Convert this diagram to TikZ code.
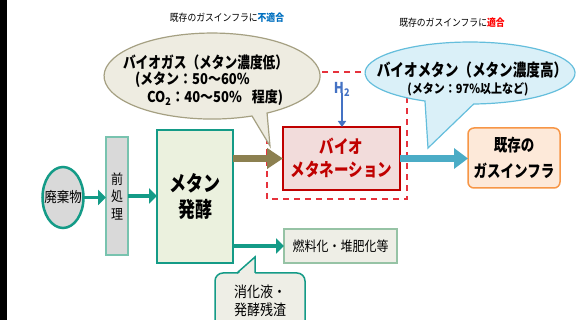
\documentclass[tikz,border=0pt]{standalone}
\usepackage{fontspec}
\setmainfont{Noto Sans CJK JP}
\usetikzlibrary{arrows.meta,shapes.geometric}
\newcommand{\tallt}[1]{\scalebox{1}[1.25]{#1}}
\newcommand{\midt}[1]{\scalebox{1}[1.15]{#1}}
\definecolor{tealc}{RGB}{20,155,135}
\definecolor{gfill}{RGB}{235,241,222}
\definecolor{prefill}{RGB}{217,217,217}
\definecolor{preline}{RGB}{120,195,175}
\definecolor{olivec}{RGB}{140,128,80}
\definecolor{beigefill}{RGB}{238,236,225}
\definecolor{beigeline}{RGB}{165,160,130}
\definecolor{bluefill}{RGB}{218,240,248}
\definecolor{blueline}{RGB}{100,190,220}
\definecolor{darkredc}{RGB}{192,0,0}
\definecolor{pinkfill}{RGB}{242,220,219}
\definecolor{dashred}{RGB}{230,50,60}
\definecolor{arrowblue}{RGB}{75,172,198}
\definecolor{orangeline}{RGB}{247,150,70}
\definecolor{orangefill}{RGB}{253,233,217}
\definecolor{fuelfill}{RGB}{238,238,230}
\definecolor{fuelline}{RGB}{150,195,165}
\definecolor{htwoblue}{RGB}{68,114,196}
\definecolor{blueT}{RGB}{0,112,192}
\definecolor{redT}{RGB}{255,0,0}
\tikzset{
  every node/.style={inner sep=0pt, outer sep=0pt},
  tarrow/.style={draw=tealc, line width=3.5pt, -{Triangle[length=8pt,width=15pt]}},
  oarrow/.style={draw=olivec, line width=7pt, -{Triangle[length=16pt,width=20pt]}},
  barrow/.style={draw=arrowblue, line width=7pt, -{Triangle[length=14pt,width=20pt]}},
  harrow/.style={draw=htwoblue, line width=1.5pt, -{Triangle[length=6pt,width=8pt]}},
  gbox/.style={draw=tealc, line width=2.5pt, fill=gfill, align=center, font=\fontsize{17pt}{26pt}\selectfont\bfseries},
  prebox/.style={draw=preline, line width=1.5pt, fill=prefill, align=center, font=\fontsize{12pt}{17.5pt}\selectfont},
  rbox/.style={draw=darkredc, line width=2.5pt, fill=pinkfill, text=darkredc, align=center, font=\fontsize{14.5pt}{23pt}\selectfont\bfseries},
  obox/.style={draw=orangeline, line width=1.5pt, fill=orangefill, rounded corners=6pt, align=center, font=\fontsize{13.5pt}{26pt}\selectfont\bfseries},
  fbox/.style={draw=fuelline, line width=1.2pt, fill=fuelfill, font=\fontsize{12pt}{14pt}\selectfont},
  beigecall/.style={draw=beigeline, line width=1.2pt, fill=beigefill},
  bluecall/.style={draw=blueline, line width=1.2pt, fill=bluefill},
  digcall/.style={draw=tealc, line width=1.5pt, fill=fuelfill},
  reddash/.style={draw=dashred, line width=1.5pt, dash pattern=on 6pt off 5pt},
}
\begin{document}
\begin{tikzpicture}[x=1pt,y=-1pt]
\useasboundingbox (0,0) rectangle (576,320);
\clip (0,0) rectangle (576,320);
\fill[white] (0,0) rectangle (576,320);
\fill[black] (0,0) rectangle (7,320);

% top labels
\node (lab1) at (227,18) {\midt{\fontsize{8.8pt}{10pt}\selectfont 既存のガスインフラに\textcolor{blueT}{\bfseries 不適合}}};
\node (lab2) at (452,23) {\midt{\fontsize{8.8pt}{10pt}\selectfont 既存のガスインフラに\textcolor{redT}{\bfseries 適合}}};

% red dashed frame
\draw[reddash] (267,72) rectangle (407,199);

% biogas callout
\draw[beigecall] (270,146) -- (252,116) arc[start angle=68.3, end angle=419.4, x radius=108, y radius=43] -- cycle;
\node[anchor=west] (bg1) at (123,62) {\tallt{\fontsize{12.7pt}{14pt}\selectfont\bfseries バイオガス（メタン濃度低）}};
\node[anchor=west] (bg2) at (135,80) {\midt{\fontsize{13pt}{14pt}\selectfont\bfseries (メタン：50～60\%}};
\node[anchor=west] (bg3) at (147,98) {\midt{\fontsize{13pt}{14pt}\selectfont\bfseries CO\textsubscript{2}：40～50\%\hspace{10pt}程度)}};

% biomethane callout
\draw[bluecall] (428,148) -- (473.7,104) arc[start angle=88, end angle=-244.6, x radius=105, y radius=31] -- cycle;
\node (bm1) at (472,70) {\tallt{\fontsize{13.6pt}{15pt}\selectfont\bfseries バイオメタン（メタン濃度高）}};
\node (bm2) at (468,89) {\midt{\fontsize{11pt}{13pt}\selectfont\bfseries (メタン：97\%以上など)}};

% waste
\node[ellipse, draw=tealc, line width=2.5pt, fill=prefill, minimum width=41pt, minimum height=61pt] (waste) at (63,197.5) {};
\node (wastet) at (waste) {\midt{\fontsize{12.5pt}{14pt}\selectfont 廃棄物}};

% boxes
\node[prebox, minimum width=22pt, minimum height=118pt] (pre) at (117,196) {\midt{前}\\\midt{処}\\\midt{理}};
\node[gbox, minimum width=76pt, minimum height=133pt] (ferm) at (195,196.5) {\tallt{メタン}\\\tallt{発酵}};
\node[rbox, minimum width=117pt, minimum height=63pt] (meth) at (341.5,158.5) {\tallt{バイオ}\\\tallt{メタネーション}};
\node[obox, minimum width=92pt, minimum height=60pt] (infra) at (514,158) {\tallt{既存の}\\\tallt{ガスインフラ}};
\node[fbox, minimum width=113pt, minimum height=34pt] (fuel) at (340.5,246) {\midt{燃料化・堆肥化等}};

% digestate callout
\draw[digcall, rounded corners=8pt] (215,273) rectangle (305,340);
\fill[fuelfill] (237,275) -- (255,257) -- (255,275) -- cycle;
\draw[tealc, line width=1.5pt, line join=miter] (237,273) -- (255,257) -- (255,273);
\node[align=center, font=\fontsize{13pt}{18pt}\selectfont] (dig) at (260,301) {\midt{消化液・}\\\midt{発酵残渣}};

% H2
\node (h2) at (342,89) {\midt{\fontsize{13pt}{14pt}\selectfont\bfseries\textcolor{htwoblue}{H\textsubscript{2}}}};
\draw[harrow] ([yshift=3pt]h2.south) -- (h2.south |- meth.north);

% arrows
\draw[tarrow] (waste.east) -- (waste.east -| pre.west);
\draw[tarrow] (pre.east) -- (pre.east -| ferm.west);
\draw[oarrow] (ferm.east |- meth.west) -- (meth.west);
\draw[barrow] (meth.east) -- (meth.east -| infra.west);
\draw[tarrow] (ferm.east |- fuel.west) -- (fuel.west);
\end{tikzpicture}
\end{document}
